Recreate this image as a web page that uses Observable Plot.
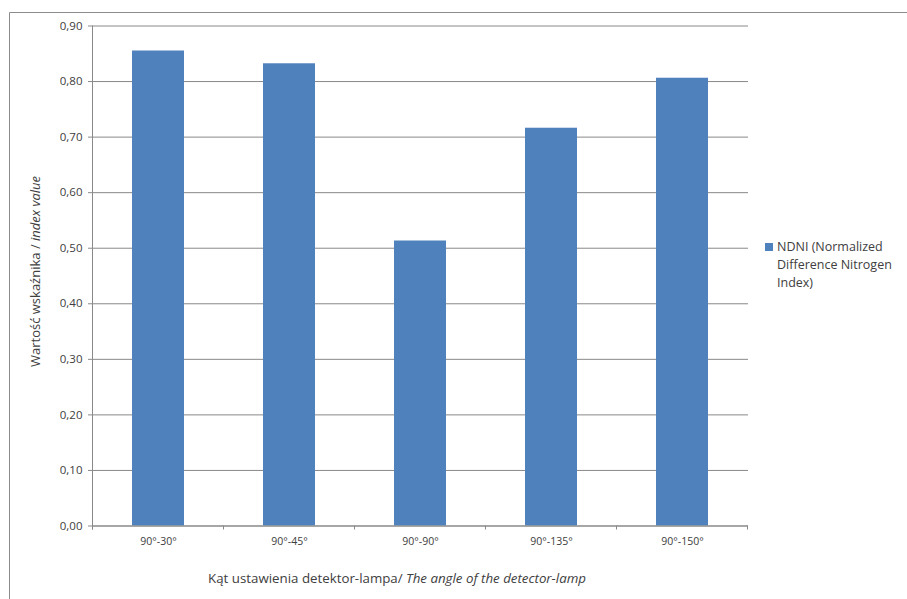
<!DOCTYPE html>
<html>
<head>
<meta charset="utf-8">
<script src="https://cdn.jsdelivr.net/npm/d3@7"></script>
<script src="https://cdn.jsdelivr.net/npm/@observablehq/plot@0.6"></script>
<style>
  html, body { margin: 0; padding: 0; background: #fff; }
</style>
</head>
<body>
<div id="chart"></div>
<script>
// NDNI values for each detector–lamp angle
const categories = ["90°-30°", "90°-45°", "90°-90°", "90°-135°", "90°-150°"];
const values = [0.855, 0.832, 0.513, 0.716, 0.806];
const yTicks = [0, 0.1, 0.2, 0.3, 0.4, 0.5, 0.6, 0.7, 0.8, 0.9];
const seriesName = "NDNI";
const legendLines = ["NDNI (Normalized", "Difference Nitrogen", "Index)"];
const yTitle = ["Wartość wskaźnika / ", "index value"];
const xTitle = ["Kąt ustawienia detektor-lampa/ ", "The angle of the detector-lamp"];

const data = categories.map((c, i) => ({ angle: c, value: values[i], series: seriesName }));

const font = "'Open Sans', 'DejaVu Sans', sans-serif";
const gridColor = "#898989";
const textColor = "#404040";
const fmt = d => d.toFixed(2).replace(".", ",");

const chart = Plot.plot({
  width: 907,
  height: 599,
  marginLeft: 92,
  marginRight: 159,
  marginTop: 25.5,
  marginBottom: 73.5,
  style: { fontFamily: font, fontSize: "11.5px", color: textColor, background: "#fff", overflow: "visible" },
  x: { domain: categories, paddingInner: 0.6, paddingOuter: 0.3, label: null },
  y: { domain: [0, 0.9], label: null },
  color: { domain: [seriesName], range: ["#4F81BD"] },
  marks: [
    Plot.gridY(yTicks, { stroke: gridColor, strokeOpacity: 1 }),
    Plot.barY(data, { x: "angle", y: "value", fill: "series" }),
    Plot.axisY(yTicks, { tickSize: 4, tickPadding: 6, stroke: gridColor, tickFormat: fmt, fill: textColor, label: null }),
    Plot.axisX({ tickSize: 0, tickPadding: 12, fill: textColor, fontSize: 10.5, label: null }),
    Plot.ruleY([0], { stroke: gridColor })
  ]
});

const svg = d3.select(chart);
const x = chart.scale("x");
const y = chart.scale("y");
const color = chart.scale("color");
const [y0, y1] = [y.apply(0), y.apply(0.9)];
const step = x.step;
const left = x.apply(categories[0]) - (step - x.bandwidth) / 2;

// outer frame (top and left edges)
svg.append("path")
  .attr("d", "M9.5,599V12.5H907")
  .attr("fill", "none")
  .attr("stroke", "#8c8c8c")
  .attr("stroke-width", 1);

// vertical value axis line
svg.append("line")
  .attr("x1", left).attr("x2", left)
  .attr("y1", y1).attr("y2", y0 + 4)
  .attr("stroke", gridColor);

// category boundary ticks
for (let i = 0; i <= categories.length; i++) {
  const bx = left + i * step;
  svg.append("line")
    .attr("x1", bx).attr("x2", bx)
    .attr("y1", y0).attr("y2", y0 + 4)
    .attr("stroke", gridColor);
}

// y-axis title
const yt = svg.append("text")
  .attr("transform", `translate(40,${(y0 + y1) / 2 - 4}) rotate(-90)`)
  .attr("text-anchor", "middle")
  .attr("font-family", font)
  .attr("font-size", 13)
  .attr("fill", textColor);
yt.append("tspan").text(yTitle[0]);
yt.append("tspan").attr("font-style", "italic").text(yTitle[1]);

// x-axis title
const xt = svg.append("text")
  .attr("x", 397)
  .attr("y", 583)
  .attr("text-anchor", "middle")
  .attr("font-family", font)
  .attr("font-size", 13.3)
  .attr("fill", textColor);
xt.append("tspan").text(xTitle[0]);
xt.append("tspan").attr("font-style", "italic").text(xTitle[1]);

// legend
const lg = svg.append("g")
  .attr("font-family", font)
  .attr("font-size", 12.5)
  .attr("text-anchor", "start")
  .attr("fill", textColor);
lg.append("rect").attr("x", 765).attr("y", 243).attr("width", 8).attr("height", 8).attr("fill", color.apply(seriesName));
legendLines.forEach((t, i) => {
  lg.append("text").attr("x", 777).attr("y", 250.5 + i * 18.2).text(t);
});

document.getElementById("chart").appendChild(chart);
</script>
</body>
</html>
